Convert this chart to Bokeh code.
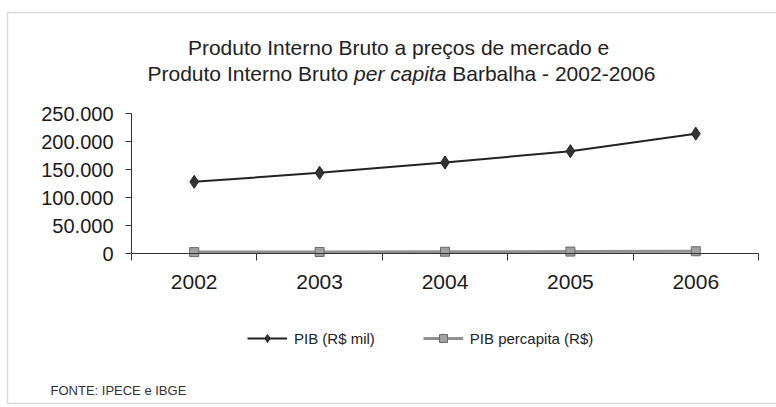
from bokeh.plotting import figure
from bokeh.models import (Range1d, LinearAxis, FixedTicker,
                          Legend, LegendItem, Label, BoxAnnotation)
from bokeh.embed import file_html
from bokeh.resources import INLINE

# ---- data ----
years = ["2002", "2003", "2004", "2005", "2006"]
pib_mil = [128000, 144000, 162500, 182700, 214000]      # PIB (R$ mil)
pib_per_capita = [2500, 2750, 3100, 3450, 4000]          # PIB per capita (R$)
y_ticks = [0, 50000, 100000, 150000, 200000, 250000]
y_tick_labels = ["0", "50.000", "100.000", "150.000", "200.000", "250.000"]
title_line1 = "Produto Interno Bruto a preços de mercado  e"
title_line2_parts = ["Produto Interno Bruto", "per capita", "Barbalha - 2002-2006"]
legend_labels = ["PIB (R$ mil)", "PIB percapita (R$)"]
source_text = "FONTE: IPECE e IBGE"

FONT = "Liberation Sans"

# ---- layout (pixels) ----
W, H = 776, 405
AX_L, AX_R = 131, 758       # x-axis extent
AX_T, AX_B = 113, 253       # y of top value / zero line
Y_MAX = y_ticks[-1]
n = len(years)

# category slots: each year sits at the centre of its slot
xc = [i + 0.5 for i in range(n)]

xpx = (AX_R - AX_L) / n
ypx = (AX_B - AX_T) / Y_MAX
x_range = Range1d(-AX_L / xpx, n + (W - AX_R) / xpx)
y_range = Range1d(-(H - AX_B) / ypx, Y_MAX + AX_T / ypx)

p = figure(width=W, height=H, x_range=x_range, y_range=y_range,
           output_backend="svg", toolbar_location=None,
           x_axis_location=None, y_axis_location=None,
           min_border=0)
p.background_fill_color = "white"
p.border_fill_color = "white"
p.outline_line_color = None
p.xgrid.visible = False
p.ygrid.visible = False

# y axis
yax = LinearAxis(ticker=FixedTicker(ticks=y_ticks), fixed_location=0, bounds=(0, Y_MAX),
                 major_label_overrides={t: l for t, l in zip(y_ticks, y_tick_labels)})
yax.axis_line_color = "#333333"
yax.major_tick_line_color = "#333333"
yax.major_tick_out = 6
yax.major_tick_in = 0
yax.minor_tick_line_color = None
yax.major_label_standoff = 12
yax.major_label_text_font = FONT
yax.major_label_text_font_size = "20px"
yax.major_label_text_color = "#1a1a1a"
p.add_layout(yax, "left")

# x axis: boundary ticks + category labels
tick_ax = LinearAxis(ticker=FixedTicker(ticks=list(range(n + 1))), fixed_location=0, bounds=(0, n))
tick_ax.axis_line_color = "#333333"
tick_ax.major_tick_line_color = "#333333"
tick_ax.major_tick_out = 7
tick_ax.major_tick_in = 0
tick_ax.minor_tick_line_color = None
tick_ax.major_label_text_font_size = "0px"
tick_ax.major_label_text_alpha = 0
p.add_layout(tick_ax, "below")

cat_ax = LinearAxis(ticker=FixedTicker(ticks=xc), fixed_location=0,
                    major_label_overrides={x: y for x, y in zip(xc, years)})
cat_ax.axis_line_color = None
cat_ax.major_tick_line_color = None
cat_ax.minor_tick_line_color = None
cat_ax.major_label_standoff = 15
cat_ax.major_label_text_font = FONT
cat_ax.major_label_text_font_size = "21px"
cat_ax.major_label_text_color = "#1a1a1a"
p.add_layout(cat_ax, "below")

# series
r1l = p.line(xc, pib_mil, line_color="#222222", line_width=2)
r1m = p.scatter(xc, pib_mil, marker="diamond", size=13,
                fill_color="#333333", line_color="#222222")
r2l = p.line(xc, pib_per_capita, line_color="#909090", line_width=3)
r2m = p.scatter(xc, pib_per_capita, marker="square", size=9, fill_color="#a0a0a0", line_color="#6a6a6a")

legend = Legend(items=[LegendItem(label=legend_labels[0], renderers=[r1l, r1m]),
                       LegendItem(label=legend_labels[1], renderers=[r2l, r2m])],
                orientation="horizontal", location=(247, H - 348),
                glyph_width=40, glyph_height=20, label_standoff=7, spacing=48,
                padding=0, margin=0, border_line_color=None, background_fill_alpha=0,
                label_text_font=FONT, label_text_font_size="15px", label_text_color="#222222")
p.add_layout(legend, "center")

# titles (screen units, origin bottom-left of canvas)
tcol = "#222222"
p.add_layout(Label(x=401, y=H - 47, x_units="screen", y_units="screen", text=title_line1,
                   text_align="center", text_baseline="alphabetic", text_font=FONT,
                   text_font_size="21px", text_color=tcol))
xs2 = [147, 353.6, 451.7]
styles = ["normal", "italic", "normal"]
for xx, txt, st in zip(xs2, title_line2_parts, styles):
    p.add_layout(Label(x=xx, y=H - 73, x_units="screen", y_units="screen", text=txt,
                       text_align="left", text_baseline="alphabetic", text_font=FONT,
                       text_font_style=st, text_font_size="21px", text_color=tcol))

p.add_layout(Label(x=50, y=H - 390, x_units="screen", y_units="screen", text=source_text,
                   text_align="left", text_baseline="middle", text_font=FONT,
                   text_font_size="13px", text_color="#333333"))

# chart border
p.add_layout(BoxAnnotation(left=7, right=W + 20, top=H - 12, bottom=2,
                           left_units="screen", right_units="screen",
                           top_units="screen", bottom_units="screen",
                           fill_alpha=0, line_color="#8a8a8a", line_width=1.5))

open("out.html", "w").write(file_html(p, INLINE))
